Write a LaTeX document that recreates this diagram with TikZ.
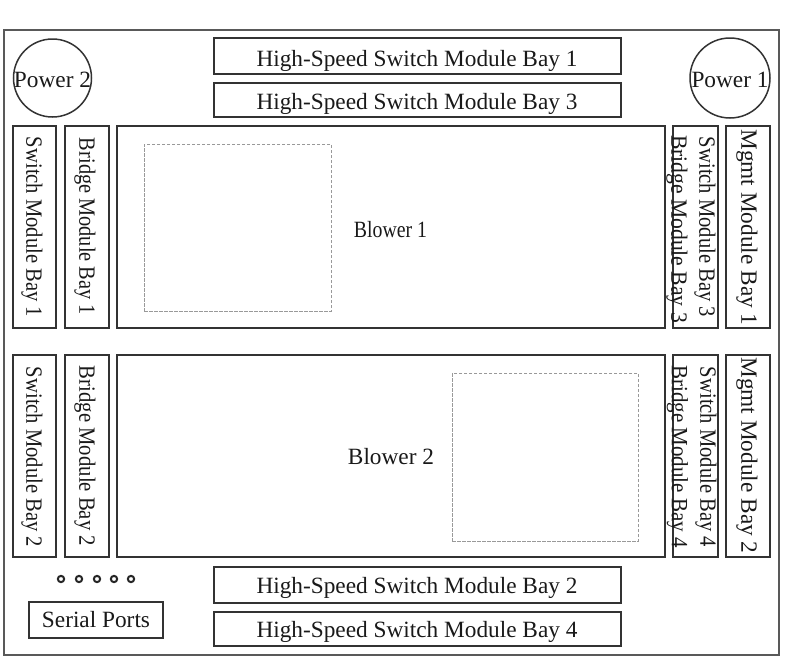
\documentclass[tikz,border=0pt]{standalone}
\usepackage{fontspec}
\setmainfont{Liberation Serif}
\begin{document}
\begin{tikzpicture}[x=1pt,y=-1pt,
  bx/.style={draw=black!80, line width=1.7pt, inner sep=0pt, outer sep=0pt, rectangle},
  fan/.style={draw=black!40, line width=0.9pt, dash pattern=on 3.5pt off 1.5pt, inner sep=0pt, rectangle},
  lbl/.style={inner sep=0pt, outer sep=0pt, text=black!90, font=\fontsize{23.3}{28}\selectfont},
  vlbl/.style={lbl, rotate=-90},
  pwr/.style={draw=black!80, line width=1.5pt, circle, inner sep=0pt},
  port/.style={draw=black!85, line width=2pt, circle, minimum size=6.3pt, inner sep=0pt}]
\useasboundingbox (0,0) rectangle (793,667);
% outer frame
\node[draw=black!65, line width=1.8pt, rectangle, inner sep=0pt, minimum width=775pt, minimum height=625pt] (frame) at (391.5,342.5) {};
% power
\node[pwr, minimum size=78pt] (p2) at (52.5,78) {};
\node[lbl] (p2t) at (52.5,80) {Power 2};
\node[pwr, minimum size=80pt] (p1) at (730,78) {};
\node[lbl] (p1t) at (730,80) {Power 1};
% high speed bays
\node[bx, minimum width=407pt, minimum height=36pt] (hs1) at (417.5,56) {};
\node[lbl] (hs1t) at (417,60.5) {High-Speed Switch Module Bay 1};
\node[bx, minimum width=407pt, minimum height=34pt] (hs3) at (417.5,100) {};
\node[lbl] (hs3t) at (417,104) {High-Speed Switch Module Bay 3};
\node[bx, minimum width=407pt, minimum height=36pt] (hs2) at (417.5,585) {};
\node[lbl] (hs2t) at (417,587.5) {High-Speed Switch Module Bay 2};
\node[bx, minimum width=407pt, minimum height=34pt] (hs4) at (417.5,629) {};
\node[lbl] (hs4t) at (417,632) {High-Speed Switch Module Bay 4};
% top row
\node[bx, minimum width=43pt, minimum height=202pt] (sw1) at (34.5,227) {};
\node[vlbl] (sw1t) at (32,227) {\scalebox{0.883}[1]{Switch Module Bay 1}};
\node[bx, minimum width=44pt, minimum height=202pt] (br1) at (87,227) {};
\node[vlbl] (br1t) at (85,226.5) {\scalebox{0.874}[1]{Bridge Module Bay 1}};
\node[bx, minimum width=548pt, minimum height=202pt] (bl1) at (391,227) {};
\node[fan, minimum width=187pt, minimum height=167pt] (fan1) at (237.5,227.5) {};
\node[lbl] (bl1t) at (390.5,229.5) {\scalebox{0.85}[1]{Blower 1}};
\node[bx, minimum width=45pt, minimum height=202pt] (sb3) at (695.5,227) {};
\node[vlbl] (sw3t) at (705,227) {\scalebox{0.883}[1]{Switch Module Bay 3}};
\node[vlbl] (br3t) at (677,229) {\scalebox{0.928}[1]{Bridge Module Bay 3}};
\node[bx, minimum width=44pt, minimum height=202pt] (mg1) at (748,227) {};
\node[vlbl] (mg1t) at (747,227.5) {Mgmt Module Bay 1};
% bottom row
\node[bx, minimum width=43pt, minimum height=202pt] (sw2) at (34.5,456) {};
\node[vlbl] (sw2t) at (32,457) {\scalebox{0.883}[1]{Switch Module Bay 2}};
\node[bx, minimum width=44pt, minimum height=202pt] (br2) at (87,456) {};
\node[vlbl] (br2t) at (85,456) {\scalebox{0.889}[1]{Bridge Module Bay 2}};
\node[bx, minimum width=548pt, minimum height=202pt] (bl2) at (391,456) {};
\node[fan, minimum width=186pt, minimum height=168pt] (fan2) at (545,457) {};
\node[lbl] (bl2t) at (391,457) {Blower 2};
\node[bx, minimum width=45pt, minimum height=202pt] (sb4) at (695.5,456) {};
\node[vlbl] (sw4t) at (706,457) {\scalebox{0.883}[1]{Switch Module Bay 4}};
\node[vlbl] (br4t) at (677.5,456.5) {\scalebox{0.9}[1]{Bridge Module Bay 4}};
\node[bx, minimum width=44pt, minimum height=202pt] (mg2) at (748,456) {};
\node[vlbl] (mg2t) at (747,455.5) {Mgmt Module Bay 2};
% serial ports
\node[port] (sp1) at (61,579) {};
\node[port] (sp2) at (79,579) {};
\node[port] (sp3) at (97,579) {};
\node[port] (sp4) at (114,579) {};
\node[port] (sp5) at (131,579) {};
\node[bx, minimum width=134pt, minimum height=36pt] (ser) at (96,620) {};
\node[lbl] (sert) at (ser.center) {Serial Ports};
\end{tikzpicture}
\end{document}
